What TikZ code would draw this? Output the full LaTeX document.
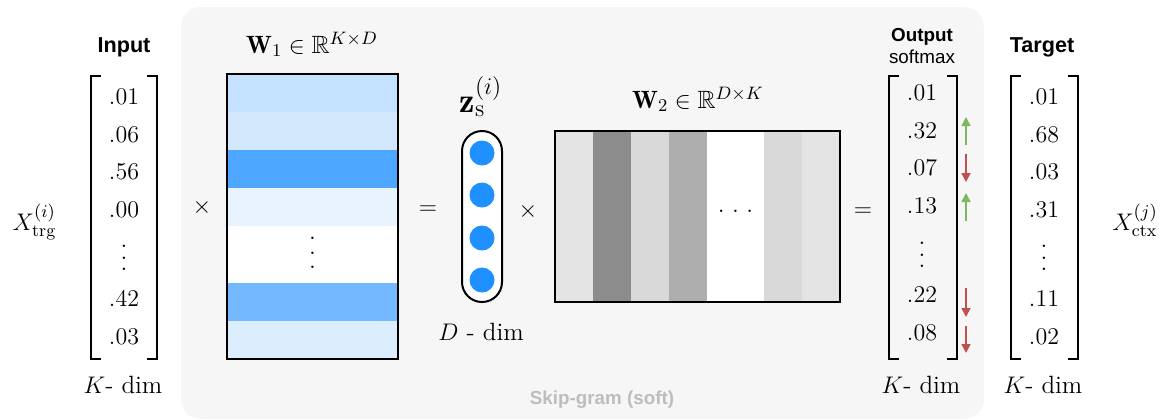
\documentclass[tikz,border=0pt]{standalone}
\usepackage{amsmath,amssymb}
\usepackage{fontspec}
\setsansfont{Liberation Sans}
\usetikzlibrary{arrows.meta,positioning}

\definecolor{panelgray}{HTML}{F6F6F6}
\definecolor{captiongray}{HTML}{BDBDBD}
\definecolor{zblue}{HTML}{1E90FF}
\definecolor{upgreen}{HTML}{7CB860}
\definecolor{downred}{HTML}{C0504D}
\definecolor{w1a}{HTML}{C4E1FF}
\definecolor{w1b}{HTML}{D3E8FD}
\definecolor{w1c}{HTML}{4DA6FF}
\definecolor{w1d}{HTML}{E8F3FE}
\definecolor{w1f}{HTML}{74B9FF}
\definecolor{w1g}{HTML}{DCEDFD}
\definecolor{w2a}{HTML}{E4E4E4}
\definecolor{w2b}{HTML}{8C8C8C}
\definecolor{w2c}{HTML}{D9D9D9}
\definecolor{w2d}{HTML}{AEAEAE}

\newcommand\stackdots[1]{\vbox{\baselineskip#1\lineskiplimit0pt\hbox{.}\hbox{.}\hbox{.}}}
\newcommand\colvdots{\stackdots{5.8pt}}
\newcommand\rowdots{.\hspace{3.7pt}.\hspace{3.7pt}.}

\begin{document}
\begin{tikzpicture}[x=0.5pt, y=-0.5pt,
        every node/.style={inner sep=0pt, font=\fontsize{12.5}{15}\selectfont},
        head/.style={font=\sffamily\bfseries\fontsize{10.8}{13}\selectfont},
        smallhead/.style={font=\sffamily\bfseries\fontsize{9.4}{11}\selectfont},
        subhead/.style={font=\sffamily\fontsize{9.4}{11}\selectfont},
        caption/.style={font=\sffamily\bfseries\fontsize{9.4}{11}\selectfont, text=captiongray},
        brk/.style={line width=1pt},
        matbox/.style={draw, line width=1pt},
        uparr/.style={-{Triangle[width=4.5pt,length=4.5pt]}, line width=0.8pt, upgreen},
        downarr/.style={-{Triangle[width=4.5pt,length=4.5pt]}, line width=0.8pt, downred}]
        \useasboundingbox (0,0) rectangle (1168,419);
        % panel
        \fill[panelgray, rounded corners=10pt] (181,7) rectangle (984,419);
        \node[caption, anchor=base] (cap) at (602,404) {Skip-gram (soft)};
        % brackets
        \foreach \l/\r in {91/157, 889/957, 1011/1078}{
          \draw[brk] (\l+10,76) -- (\l,76) -- (\l,359) -- (\l+10,359);
          \draw[brk] (\r-10,76) -- (\r,76) -- (\r,359) -- (\r-10,359);
        }
        % input
        \node[head, anchor=base] (inhead) at (124,52.5) {Input};
        \foreach \v/\yy [count=\i] in {.01/97, .06/134.5, .56/172, .00/209.5, \colvdots/258, .42/299, .03/337}
          \node (in\i) at (124,\yy) {$\v$};
        \node[anchor=base] (indim) at (123,393) {$K$- dim};
        \node[anchor=base] (xtrg) at (34.5,230) {$X_{\mathrm{trg}}^{(i)}$};
        \node (op1) at (202,207) {$\times$};
        % W1
        \foreach \c/\ya/\yb in {w1a/74/112, w1b/112/150, w1c/150/188, w1d/188/226, white/226/283, w1f/283/321, w1g/321/359}
          \fill[\c] (227,\ya) rectangle (398,\yb);
        \draw[matbox] (227,74) rectangle (398,359);
        \node (w1dots) at (312.5,253) {$\stackdots{7.2pt}$};
        \node[anchor=base] (w1lab) at (312,53) {$\mathbf{W}_1 \in \mathbb{R}^{K\times D}$};
        \node (op2) at (428,210) {$=$};
        % z
        \draw[matbox, fill=white, rounded corners=10pt] (462,131) rectangle (502,302);
        \foreach \yy [count=\i] in {153,195,238,280}
          \node[circle, fill=zblue, minimum size=12.5pt] (z\i) at (482,\yy) {};
        \node[anchor=base, font=\fontsize{17.28}{20}\selectfont] (zlab) at (481,112) {$\mathbf{z}_{\mathrm{s}}^{(i)}$};
        \node[anchor=base] (zdim) at (481,340) {$D$ - dim};
        \node (op3) at (528,211) {$\times$};
        % W2
        \foreach \c/\xa/\xb in {w2a/555/593, w2b/593/631, w2c/631/669, w2d/669/707, white/707/764, w2c/764/802, w2a/802/840}
          \fill[\c] (\xa,131) rectangle (\xb,302);
        \draw[matbox] (555,131) rectangle (840,302);
        \node (w2dots) at (735.5,211) {\rowdots};
        \node[anchor=base] (w2lab) at (698,108) {$\mathbf{W}_2 \in \mathbb{R}^{D\times K}$};
        \node (op4) at (863,212) {$=$};
        % output
        \node[smallhead, anchor=base] (outhead) at (922,41) {Output};
        \node[subhead, anchor=base] (outsub) at (922,63) {softmax};
        \foreach \v/\yy [count=\i] in {.01/93, .32/130.5, .07/168, .13/205.5, \colvdots/255, .22/295, .08/333}
          \node (out\i) at (922,\yy) {$\v$};
        \node[anchor=base] (outdim) at (921,393) {$K$- dim};
        \draw[uparr] (966,145) -- (966,117);
        \draw[downarr] (966,154) -- (966,182);
        \draw[uparr] (966,221) -- (966,193);
        \draw[downarr] (966,288) -- (966,317);
        \draw[downarr] (966,326) -- (966,353);
        % target
        \node[head, anchor=base] (tghead) at (1042,52) {Target};
        \foreach \v/\yy [count=\i] in {.01/97, .68/134.5, .03/172, .31/209.5, \colvdots/258, .11/299, .02/337}
          \node (tg\i) at (1044,\yy) {$\v$};
        \node[anchor=base] (tgdim) at (1043,393) {$K$- dim};
        \node[anchor=base] (xctx) at (1135,230) {$X_{\mathrm{ctx}}^{(j)}$};
      \end{tikzpicture}
\end{document}
